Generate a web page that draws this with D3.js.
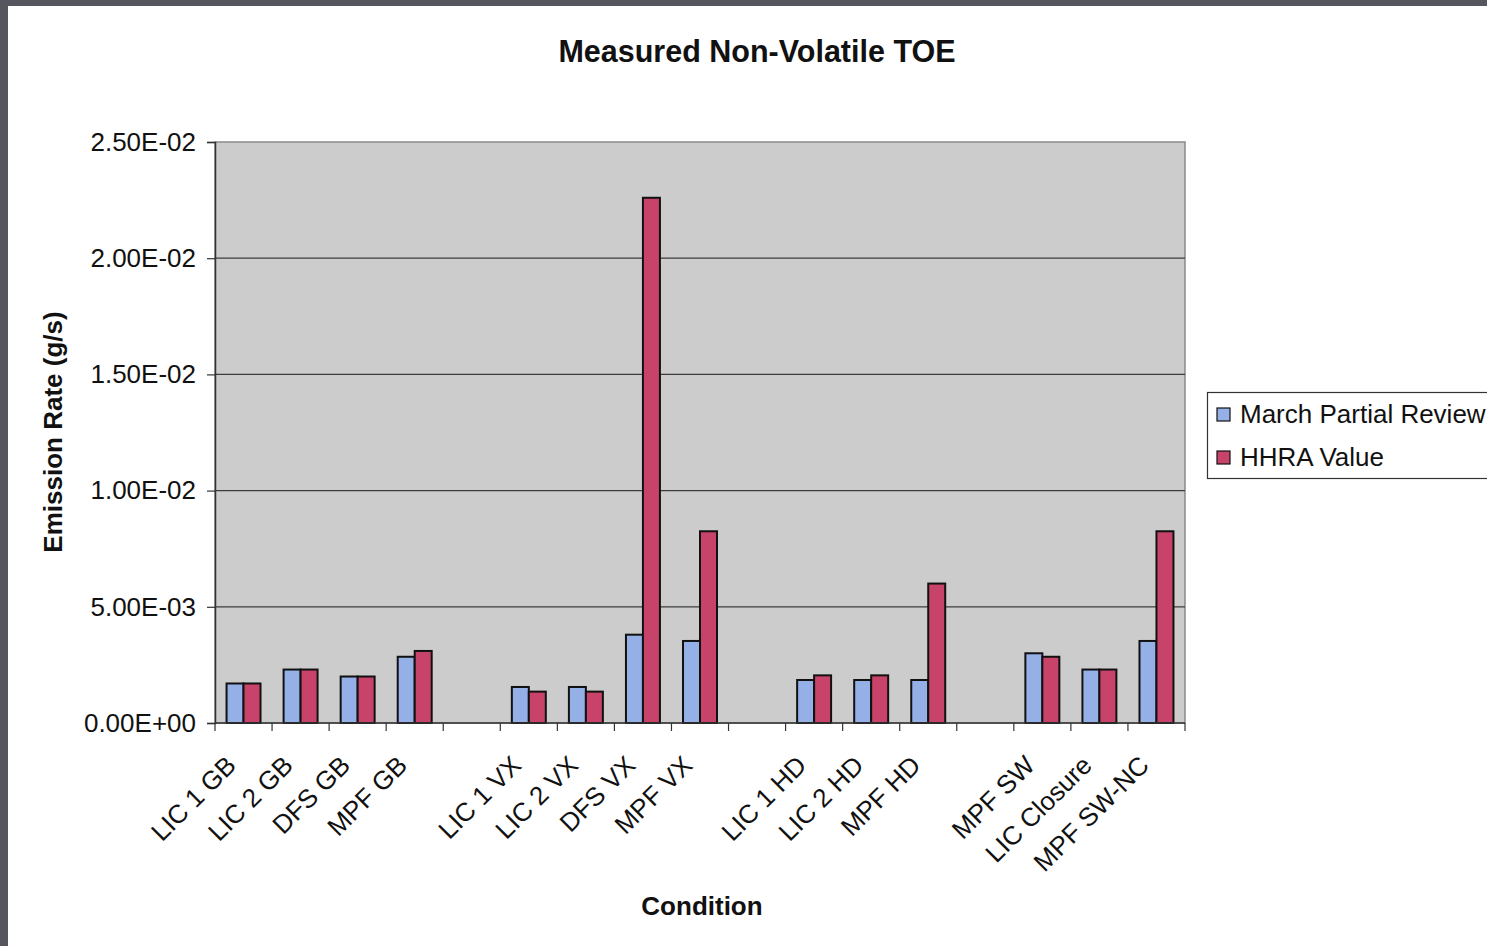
<!DOCTYPE html>
<html><head><meta charset="utf-8">
<script src="https://cdn.jsdelivr.net/npm/d3@7/dist/d3.min.js"></script>
<style>
html,body{margin:0;padding:0;background:#fff;}
svg{display:block;font-family:"Liberation Sans",Arial,sans-serif;}
</style></head><body>
<svg id="chart" width="1487" height="946"></svg>
<script>
const categories = ["LIC 1 GB","LIC 2 GB","DFS GB","MPF GB","",
  "LIC 1 VX","LIC 2 VX","DFS VX","MPF VX","",
  "LIC 1 HD","LIC 2 HD","MPF HD","",
  "MPF SW","LIC Closure","MPF SW-NC"];
const seriesNames = ["March Partial Review","HHRA Value"];
const marchPartialReview = [0.0017,0.0023,0.0020,0.00285,null,
  0.00155,0.00155,0.0038,0.00353,null,
  0.00185,0.00185,0.00185,null,
  0.0030,0.0023,0.00353];
const hhraValue = [0.0017,0.0023,0.0020,0.0031,null,
  0.00135,0.00135,0.0226,0.00825,null,
  0.00205,0.00205,0.0060,null,
  0.00285,0.0023,0.00825];
const yTicks = [0,0.005,0.01,0.015,0.02,0.025];
const yTickLabels = ["0.00E+00","5.00E-03","1.00E-02","1.50E-02","2.00E-02","2.50E-02"];
const colors = ["#95b0e6","#c8436a"];

const svg = d3.select("#chart");
// scan frame edges
svg.append("rect").attr("x",0).attr("y",0).attr("width",1487).attr("height",6).attr("fill","#55565e");
svg.append("rect").attr("x",0).attr("y",0).attr("width",8).attr("height",946).attr("fill","#55565e");

const L=215,R=1185,T=142,B=723;
const keys = categories.map((c,i)=>"c"+i);
const x0 = d3.scaleBand().domain(keys).range([L,R]).paddingInner(0).paddingOuter(0);
const x1 = d3.scaleBand().domain(seriesNames).range([0,x0.bandwidth()]).paddingInner(0).paddingOuter(0.68);
const y = d3.scaleLinear().domain([0,0.025]).range([B,T]);

svg.append("rect").attr("x",L).attr("y",T).attr("width",R-L).attr("height",B-T)
  .attr("fill","#cbcccb").attr("stroke","#8a8a8a").attr("stroke-width",1.5);

// gridlines
svg.append("g").selectAll("line").data(yTicks.filter(v=>v>0&&v<0.025)).join("line")
  .attr("x1",L).attr("x2",R).attr("y1",d=>y(d)).attr("y2",d=>y(d))
  .attr("stroke","#3c3c3c").attr("stroke-width",1.2);

// bars
const data = categories.map((c,i)=>({key:keys[i], vals:[marchPartialReview[i],hhraValue[i]]}));
const g = svg.append("g").selectAll("g").data(data).join("g")
  .attr("transform",d=>`translate(${x0(d.key)},0)`);
g.selectAll("rect").data(d=>d.vals.map((v,j)=>({v,j})).filter(e=>e.v!=null)).join("rect")
  .attr("x",e=>x1(seriesNames[e.j])).attr("width",x1.bandwidth())
  .attr("y",e=>y(e.v)).attr("height",e=>B-y(e.v))
  .attr("fill",e=>colors[e.j]).attr("stroke","#111").attr("stroke-width",2);

// y axis
const yAxis = d3.axisLeft(y).tickValues(yTicks).tickFormat((d,i)=>yTickLabels[i]).tickSize(8).tickPadding(11);
const ya = svg.append("g").attr("transform",`translate(${L},0)`).call(yAxis);
ya.select(".domain").attr("stroke","#333").attr("stroke-width",1.5);
ya.selectAll(".tick line").attr("stroke","#333").attr("stroke-width",1.2);
ya.selectAll("text").attr("font-size",26).attr("fill","#111").attr("font-family","Liberation Sans, Arial, sans-serif");

// x axis
const xa = svg.append("g").attr("transform",`translate(0,${B})`);
xa.append("line").attr("x1",L).attr("x2",R).attr("y1",0).attr("y2",0).attr("stroke","#333").attr("stroke-width",1.5);
const bounds = keys.map(k=>x0(k)).concat([R]);
xa.selectAll("line.tk").data(bounds).join("line").attr("class","tk")
  .attr("x1",d=>d).attr("x2",d=>d).attr("y1",0).attr("y2",8).attr("stroke","#333").attr("stroke-width",1.2);
xa.selectAll("text").data(data).join("text")
  .attr("transform",d=>`translate(${x0(d.key)+x0.bandwidth()/2-6},${44}) rotate(-45)`)
  .attr("text-anchor","end").attr("font-size",26).attr("fill","#111")
  .text((d,i)=>categories[i]);

// titles
svg.append("text").attr("x",757).attr("y",62).attr("text-anchor","middle")
  .attr("font-size",30.5).attr("font-weight","bold").attr("fill","#111").text("Measured Non-Volatile TOE");
svg.append("text").attr("transform","translate(62,432) rotate(-90)").attr("text-anchor","middle")
  .attr("font-size",26).attr("font-weight","bold").attr("fill","#111").text("Emission Rate (g/s)");
svg.append("text").attr("x",702).attr("y",915).attr("text-anchor","middle")
  .attr("font-size",26).attr("font-weight","bold").attr("fill","#111").text("Condition");

// legend
const lg = svg.append("g");
lg.append("rect").attr("x",1207.5).attr("y",392.5).attr("width",300).attr("height",86)
  .attr("fill","#fff").attr("stroke","#333").attr("stroke-width",1.2);
seriesNames.forEach((s,i)=>{
  const yy = 414 + i*43;
  lg.append("rect").attr("x",1217).attr("y",yy-6).attr("width",13).attr("height",13)
    .attr("fill",colors[i]).attr("stroke","#111").attr("stroke-width",1.2);
  lg.append("text").attr("x",1240).attr("y",yy+9).attr("font-size",26).attr("fill","#111").text(s);
});
</script></body></html>
